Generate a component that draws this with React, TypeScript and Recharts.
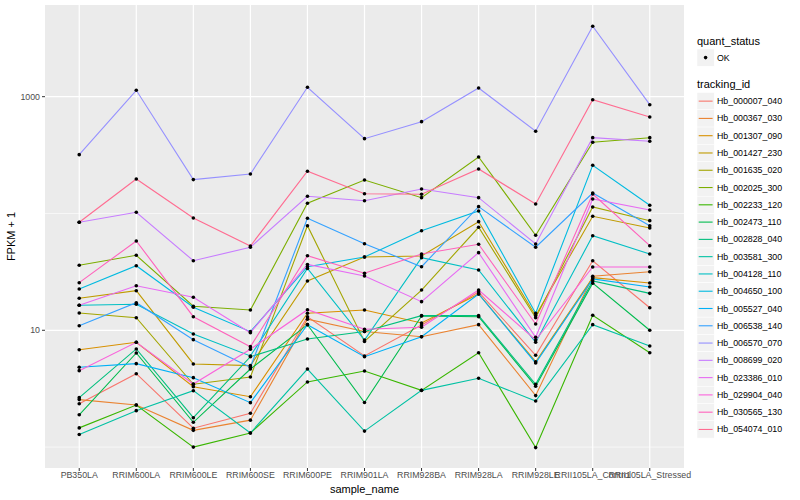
import React from "react";
import { LineChart, Line, XAxis, YAxis, CartesianGrid } from "recharts";

const categories = [
  "PB350LA",
  "RRIM600LA",
  "RRIM600LE",
  "RRIM600SE",
  "RRIM600PE",
  "RRIM901LA",
  "RRIM928BA",
  "RRIM928LA",
  "RRIM928LE",
  "RRII105LA_Control",
  "RRII105LA_Stressed",
];

const hb_000007_040 = [2.35, 4.25, 1.45, 1.95, 13.07, 6.03, 11.1, 21.3, 6.11, 39.4, 15.6];
const hb_000367_030 = [2.55, 2.29, 1.39, 1.7, 12.43, 9.77, 8.81, 11.17, 2.76, 29.0, 31.7];
const hb_001307_090 = [6.82, 7.89, 3.29, 2.7, 13.98, 14.92, 11.55, 20.45, 5.38, 28.2, 25.4];
const hb_001427_230 = [18.79, 21.83, 5.15, 4.98, 26.43, 42.4, 43.3, 85.1, 13.34, 94.6, 75.1];
const hb_001635_020 = [14.06, 12.82, 3.45, 3.98, 78.6, 8.02, 22.1, 76.2, 12.82, 113.7, 86.8];
const hb_002025_300 = [36.0, 43.9, 16.05, 14.92, 122.3, 193.6, 136.6, 304.6, 65.1, 407, 445.7];
const hb_002233_120 = [1.46, 2.29, 1.0, 1.32, 3.61, 4.48, 3.06, 6.43, 0.99, 13.44, 6.43];
const hb_002473_110 = [1.89, 6.39, 1.63, 4.66, 11.17, 2.41, 13.26, 13.07, 3.32, 25.3, 10.0];
const hb_002828_040 = [2.65, 6.92, 1.785, 5.94, 8.42, 9.77, 13.34, 13.34, 3.45, 26.43, 20.7];
const hb_003581_300 = [1.28, 2.05, 3.04, 1.32, 4.66, 1.37, 3.06, 3.88, 2.48, 11.17, 7.34];
const hb_004128_110 = [16.37, 16.7, 9.3, 6.03, 33.8, 8.26, 41.8, 32.8, 7.89, 64.5, 45.0];
const hb_004650_100 = [22.57, 35.7, 15.73, 9.73, 35.0, 42.4, 71.2, 105.0, 13.98, 258.6, 117.5];
const hb_005527_040 = [4.82, 5.18, 3.93, 2.4, 11.17, 5.94, 8.81, 20.45, 5.25, 27.5, 23.5];
const hb_006538_140 = [10.95, 17.23, 8.31, 4.82, 90.9, 55.1, 35.0, 114.4, 51.4, 149.8, 78.6];
const hb_006570_070 = [319, 1134, 195, 218, 1204, 437, 611, 1187, 506, 4006, 854];
const hb_008699_020 = [84.1, 102.4, 39.4, 51.4, 140.4, 128.7, 162.1, 136.6, 54.8, 445.7, 415.2];
const hb_023386_010 = [16.37, 24.08, 19.16, 9.54, 36.6, 29.2, 17.58, 46.2, 8.71, 133.1, 107.1];
const hb_029904_040 = [4.51, 7.89, 3.47, 6.88, 15.01, 10.2, 10.6, 22.1, 8.26, 34.8, 34.8];
const hb_030565_130 = [25.56, 58.2, 13.07, 7.24, 43.5, 30.8, 45.0, 54.5, 11.32, 146.9, 53.0];
const hb_054074_010 = [84.1, 197.5, 91.5, 52.7, 229.8, 147.7, 146, 240.4, 120.6, 942.6, 670];

const trackingIds = [
  "Hb_000007_040",
  "Hb_000367_030",
  "Hb_001307_090",
  "Hb_001427_230",
  "Hb_001635_020",
  "Hb_002025_300",
  "Hb_002233_120",
  "Hb_002473_110",
  "Hb_002828_040",
  "Hb_003581_300",
  "Hb_004128_110",
  "Hb_004650_100",
  "Hb_005527_040",
  "Hb_006538_140",
  "Hb_006570_070",
  "Hb_008699_020",
  "Hb_023386_010",
  "Hb_029904_040",
  "Hb_030565_130",
  "Hb_054074_010",
];

const seriesValues = [
  hb_000007_040,
  hb_000367_030,
  hb_001307_090,
  hb_001427_230,
  hb_001635_020,
  hb_002025_300,
  hb_002233_120,
  hb_002473_110,
  hb_002828_040,
  hb_003581_300,
  hb_004128_110,
  hb_004650_100,
  hb_005527_040,
  hb_006538_140,
  hb_006570_070,
  hb_008699_020,
  hb_023386_010,
  hb_029904_040,
  hb_030565_130,
  hb_054074_010,
];

const seriesColors = [
  "#F8766D",
  "#EA8331",
  "#D89000",
  "#C09B00",
  "#A3A500",
  "#7CAE00",
  "#39B600",
  "#00BB4E",
  "#00BF7D",
  "#00C1A3",
  "#00BFC4",
  "#00BAE0",
  "#00B0F6",
  "#35A2FF",
  "#9590FF",
  "#C77CFF",
  "#E76BF3",
  "#FA62DB",
  "#FF62BC",
  "#FF6C91",
];

const yMajorTicks = [10, 1000];
const yMinorTicks = [1, 100];
const xTicks = categories.map((_, i) => i);

const data = categories.map((name, i) => {
  const row: Record<string, number | string> = { idx: i, name };
  trackingIds.forEach((id, k) => {
    row[id] = seriesValues[k][i];
  });
  return row;
});

const FONT = "'Liberation Sans', Arial, Helvetica, sans-serif";

export default function App() {
  const keyH = 17.28;
  const itemsTop = 92.5;
  return (
    <div
      style={{
        position: "absolute",
        left: 0,
        top: 0,
        width: 800,
        height: 500,
        background: "#FFFFFF",
        fontFamily: FONT,
      }}
    >
      <LineChart
        width={800}
        height={500}
        data={data}
        margin={{ top: 5, right: 116, bottom: 0, left: 0 }}
      >
        <CartesianGrid
          fill="#EBEBEB"
          stroke="#FFFFFF"
          strokeWidth={1.2}
          horizontalValues={yMajorTicks}
          verticalValues={xTicks}
        />
        <CartesianGrid
          fill="none"
          stroke="#FFFFFF"
          strokeWidth={0.6}
          vertical={false}
          horizontalValues={yMinorTicks}
        />
        <XAxis
          dataKey="idx"
          type="number"
          domain={[-0.6, 10.6]}
          allowDataOverflow
          ticks={xTicks}
          interval={0}
          tickFormatter={(v: number) => categories[v]}
          height={32}
          tickSize={3}
          tickMargin={1}
          axisLine={false}
          tickLine={{ stroke: "#333333" }}
          tick={{ fontSize: 8.8, fill: "#4D4D4D", fontFamily: FONT }}
          label={{
            value: "sample_name",
            position: "insideBottom",
            offset: 7,
            fontSize: 11,
            fill: "#000000",
            fontFamily: FONT,
          }}
        />
        <YAxis
          type="number"
          scale="log"
          domain={[0.662, 6095]}
          allowDataOverflow
          ticks={yMajorTicks}
          width={45}
          tickSize={3}
          tickMargin={2}
          axisLine={false}
          tickLine={{ stroke: "#333333" }}
          tick={{ fontSize: 8.8, fill: "#4D4D4D", fontFamily: FONT }}
        />
        {trackingIds.map((id, k) => (
          <Line
            key={"l" + id}
            type="linear"
            dataKey={id}
            stroke={seriesColors[k]}
            strokeWidth={1.1}
            dot={false}
            activeDot={false}
            isAnimationActive={false}
          />
        ))}
        {trackingIds.map((id) => (
          <Line
            key={"p" + id}
            type="linear"
            dataKey={id}
            stroke="none"
            strokeWidth={0}
            dot={{ r: 1.8, fill: "#000000", stroke: "none" }}
            activeDot={false}
            legendType="none"
            isAnimationActive={false}
          />
        ))}
      </LineChart>
      <svg
        width={800}
        height={500}
        style={{ position: "absolute", left: 0, top: 0, pointerEvents: "none" }}
        fontFamily={FONT}
      >
        <text
          transform="translate(15,236.5) rotate(-90)"
          textAnchor="middle"
          fontSize={11}
          fill="#000000"
        >
          FPKM + 1
        </text>
        <text x={697} y={44.5} fontSize={11} fill="#000000">
          quant_status
        </text>
        <rect x={697} y={49} width={17.28} height={17.28} fill="#F2F2F2" stroke="#FFFFFF" strokeWidth={0.5} />
        <circle cx={705.6} cy={57.6} r={1.8} fill="#000000" />
        <text x={717} y={60.6} fontSize={8.8} fill="#000000">
          OK
        </text>
        <text x={697} y={88.3} fontSize={11} fill="#000000">
          tracking_id
        </text>
        {trackingIds.map((id, k) => {
          const top = itemsTop + k * keyH;
          const cy = top + keyH / 2;
          return (
            <g key={"lg" + id}>
              <rect x={697} y={top} width={17.28} height={keyH} fill="#F2F2F2" stroke="#FFFFFF" strokeWidth={0.5} />
              <line x1={698.7} x2={712.6} y1={cy} y2={cy} stroke={seriesColors[k]} strokeWidth={1.1} />
              <text x={717} y={cy + 3} fontSize={8.8} fill="#000000">
                {id}
              </text>
            </g>
          );
        })}
      </svg>
    </div>
  );
}
